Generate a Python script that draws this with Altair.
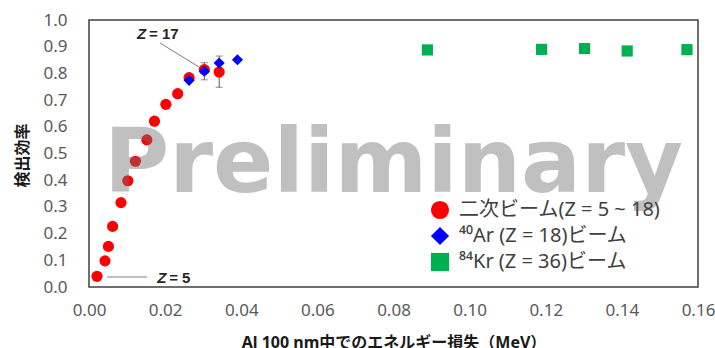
import altair as alt
import pandas as pd

# ---- data ----
sec_x = [0.0021, 0.0042, 0.0051, 0.0062, 0.0084, 0.0102, 0.0122, 0.0152, 0.0172, 0.0202, 0.0233, 0.0263, 0.0303, 0.0342]
sec_y = [0.040, 0.098, 0.152, 0.227, 0.316, 0.398, 0.471, 0.551, 0.621, 0.684, 0.724, 0.784, 0.814, 0.805]
ar_x = [0.0263, 0.0303, 0.0342, 0.0390]
ar_y = [0.774, 0.808, 0.839, 0.851]
kr_x = [0.0889, 0.1189, 0.1302, 0.1414, 0.1571]
kr_y = [0.888, 0.890, 0.893, 0.884, 0.889]
err_x = [0.0303, 0.0342]
err_lo = [0.776, 0.748]
err_hi = [0.840, 0.865]

series = ["二次ビーム(Z = 5 ~ 18)", "⁴⁰Ar (Z = 18)ビーム", "⁸⁴Kr (Z = 36)ビーム"]
colors = ["#ff0000", "#0000ff", "#00b050"]
shapes = ["circle", "diamond", "square"]

x_ticks = [0, 0.02, 0.04, 0.06, 0.08, 0.10, 0.12, 0.14, 0.16]
y_ticks = [0.0, 0.1, 0.2, 0.3, 0.4, 0.5, 0.6, 0.7, 0.8, 0.9, 1.0]

x_title = "Al 100 nm中でのエネルギー損失（MeV）"
y_title = "検出効率"

# annotations (data coordinates)
ann_text = ["Z", "Z"]
ann_rest = ["= 17", "= 5"]
ann_x = [0.0126, 0.0179]
ann_y = [0.948, 0.034]
line_x = [0.01865, 0.00473]
line_y = [0.914, 0.0375]
line_x2 = [0.0289, 0.01524]
line_y2 = [0.824, 0.0375]

FONT = "Noto Sans, Noto Sans CJK JP"

rows = []
for xs, ys, s in [(sec_x, sec_y, series[0]), (ar_x, ar_y, series[1]), (kr_x, kr_y, series[2])]:
    for a, b in zip(xs, ys):
        rows.append({"x": a, "y": b, "s": s})
pts = pd.DataFrame(rows)
pts["order"] = range(len(pts))

err = pd.DataFrame({"x": err_x, "lo": err_lo, "hi": err_hi})
ann = pd.DataFrame({"x": ann_x, "y": ann_y, "z": ann_text, "rest": ann_rest})
lines = pd.DataFrame({"x": line_x, "y": line_y, "x2": line_x2, "y2": line_y2})

xscale = alt.Scale(domain=[0, 0.16], nice=False)
yscale = alt.Scale(domain=[0, 1.0], nice=False)

xaxis = alt.Axis(title=x_title, values=x_ticks,
                 format=".2f", grid=False, ticks=False, tickSize=0, domain=False,
                 labelFlush=False, labelOverlap=False,
                 labelPadding=15, labelFontSize=17, labelFont=FONT, labelColor="#595959",
                 titleFont=FONT, titleFontSize=16, titleFontWeight="bold", titleColor="#1a1a1a",
                 titleY=55, titleBaseline="middle")
yaxis = alt.Axis(title=y_title, values=y_ticks, format=".1f", grid=False,
                 ticks=False, tickSize=0, domain=False, labelPadding=22, labelFontSize=17,
                 labelFlush=False, labelOverlap=False, tickCount=11,
                 labelFont=FONT, labelColor="#595959",
                 titleFont=FONT, titleFontSize=16, titleFontWeight="bold", titleColor="#1a1a1a",
                 titleX=-67, titleY=135, titleAngle=270, titleBaseline="middle", titleAlign="center")


def X(f):
    return alt.X(f, type="quantitative", scale=xscale, axis=xaxis)


def Y(f):
    return alt.Y(f, type="quantitative", scale=yscale, axis=yaxis)


base_err = alt.Chart(err)
err_rule = base_err.mark_rule(color="#595959", strokeWidth=1).encode(
    x=X("x"), y=Y("lo"), y2="hi:Q")
err_top = base_err.mark_tick(color="#595959", orient="horizontal", size=7, thickness=1).encode(
    x=X("x"), y=Y("hi"))
err_bot = base_err.mark_tick(color="#595959", orient="horizontal", size=7, thickness=1).encode(
    x=X("x"), y=Y("lo"))

points = alt.Chart(pts).mark_point(filled=True, opacity=1, size=125, strokeWidth=0).encode(
    x=X("x"),
    y=Y("y"),
    color=alt.Color("s:N", scale=alt.Scale(domain=series, range=colors),
                    legend=alt.Legend(title=None, orient="none", legendX=341, legendY=180,
                                      symbolSize=330, labelFontSize=20, labelFont=FONT,
                                      labelColor="#404040", rowPadding=6, padding=0,
                                      labelOffset=9, labelLimit=400, symbolStrokeWidth=0)),
    shape=alt.Shape("s:N", scale=alt.Scale(domain=series, range=shapes), legend=None),
    order="order:Q",
)

wm = alt.Chart(pd.DataFrame({"t": ["Preliminary"]})).mark_text(
    font="DejaVu Sans", fontWeight="bold", fontSize=89, color="#717171", opacity=0.44,
    align="center", baseline="alphabetic").encode(
    x=alt.datum(0.0800), y=alt.datum(0.356), text="t:N")

ann_lines = alt.Chart(lines).mark_rule(color="#808080", strokeWidth=1).encode(
    x=X("x"), y=Y("y"), x2="x2:Q", y2="y2:Q")
ann_z = alt.Chart(ann).mark_text(font="Liberation Sans", fontStyle="italic", fontWeight="bold",
                                 fontSize=15, color="#262626", align="left", baseline="middle").encode(
    x=X("x"), y=Y("y"), text="z:N")
ann_r = alt.Chart(ann).mark_text(font="Liberation Sans", fontWeight="bold",
                                 fontSize=15, color="#262626", align="left", baseline="middle", dx=12).encode(
    x=X("x"), y=Y("y"), text="rest:N")

chart = alt.layer(err_rule, err_top, err_bot, points, wm, ann_lines, ann_z, ann_r).properties(
    width=609, height=267,
    autosize=alt.AutoSizeParams(type="none"),
    padding={"left": 89, "top": 20, "right": 17, "bottom": 61},
    background="white",
).configure_view(stroke="#404040", strokeWidth=1.5)

chart.save("out.html", embed_options={"renderer": "svg", "actions": False})
